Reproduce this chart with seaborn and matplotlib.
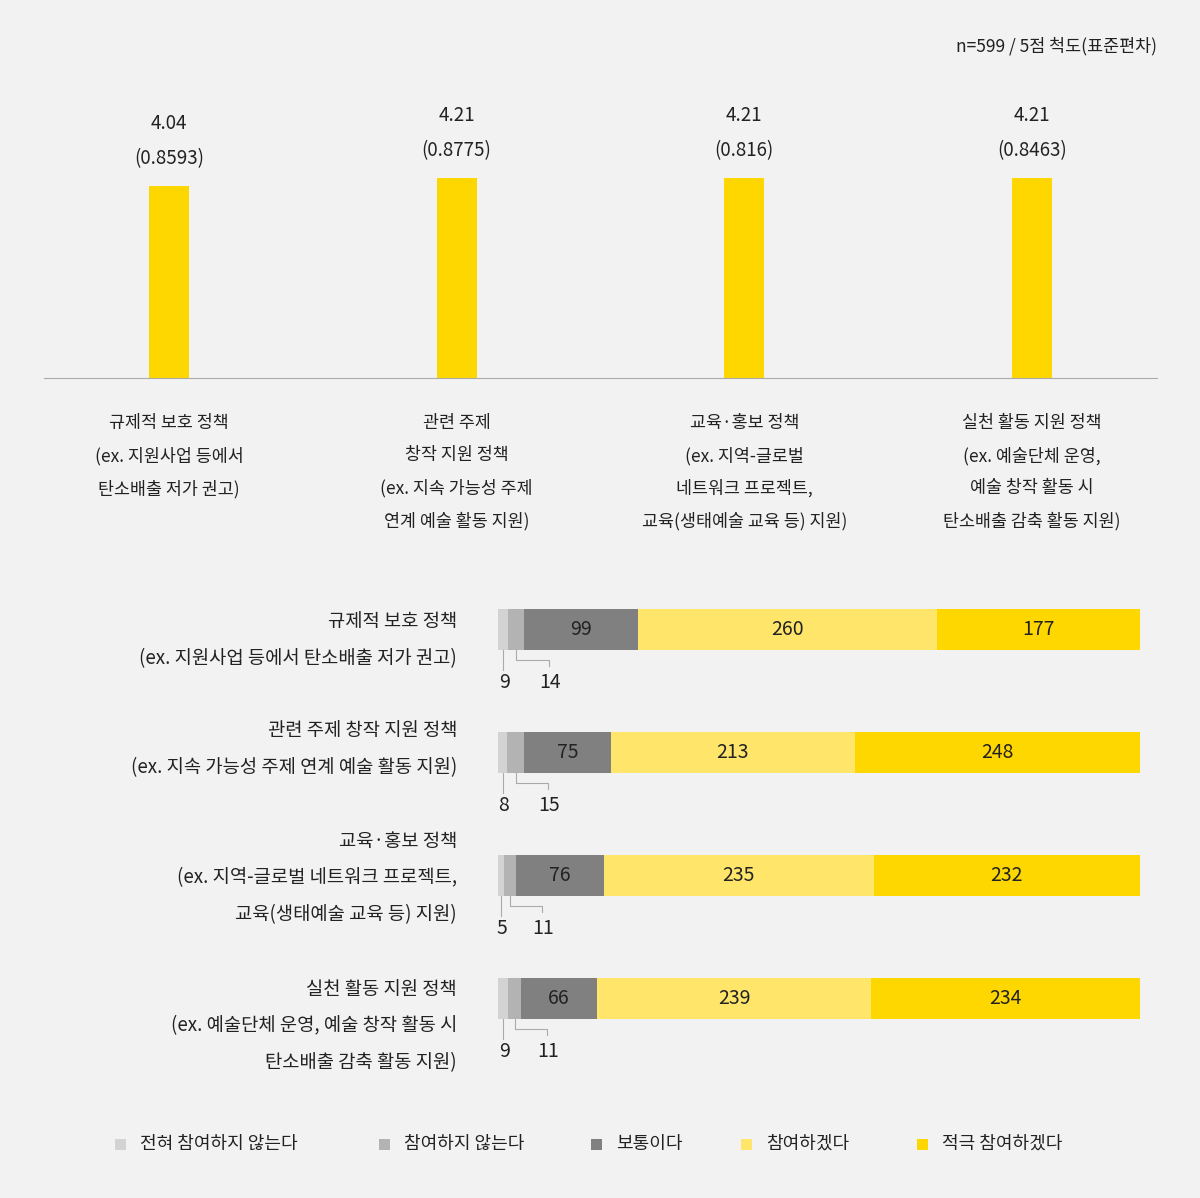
import matplotlib
matplotlib.use("Agg")
import matplotlib.pyplot as plt
import seaborn as sns
import pandas as pd
from matplotlib.patches import Rectangle

plt.rcParams["font.family"] = ["Noto Sans CJK JP", "Noto Sans CJK KR", "DejaVu Sans"]

cats_top = ["규제적 보호 정책\n(ex. 지원사업 등에서\n탄소배출 저가 권고)",
            "관련 주제\n창작 지원 정책\n(ex. 지속 가능성 주제\n연계 예술 활동 지원)",
            "교육·홍보 정책\n(ex. 지역-글로벌\n네트워크 프로젝트,\n교육(생태예술 교육 등) 지원)",
            "실천 활동 지원 정책\n(ex. 예술단체 운영,\n예술 창작 활동 시\n탄소배출 감축 활동 지원)"]
means = [4.04, 4.21, 4.21, 4.21]
sds = ["0.8593", "0.8775", "0.816", "0.8463"]

cats_bot = ["규제적 보호 정책\n(ex. 지원사업 등에서 탄소배출 저가 권고)",
            "관련 주제 창작 지원 정책\n(ex. 지속 가능성 주제 연계 예술 활동 지원)",
            "교육·홍보 정책\n(ex. 지역-글로벌 네트워크 프로젝트,\n교육(생태예술 교육 등) 지원)",
            "실천 활동 지원 정책\n(ex. 예술단체 운영, 예술 창작 활동 시\n탄소배출 감축 활동 지원)"]
levels = ["전혀 참여하지 않는다", "참여하지 않는다", "보통이다", "참여하겠다", "적극 참여하겠다"]
counts = [[9, 14, 99, 260, 177],
          [8, 15, 75, 213, 248],
          [5, 11, 76, 235, 232],
          [9, 11, 66, 239, 234]]
colors = ["#d3d3d3", "#b3b3b3", "#808080", "#ffe66b", "#ffd700"]

W, H = 1200, 1198
fig = plt.figure(figsize=(12, 11.98), dpi=100, facecolor="#f2f2f2")

def ax_px(l, t, r, b):
    return fig.add_axes([l / W, 1 - b / H, (r - l) / W, (b - t) / H])

# ---- top chart
ax = ax_px(44, 100, 1157, 378)
ax.set_facecolor("#f2f2f2")
df = pd.DataFrame({"cat": cats_top, "mean": means})
sns.barplot(data=df, x="cat", y="mean", color="#ffd700", width=0.139, ax=ax, saturation=1)
ax.set_xlim(-0.434, 3.434)
ax.set_ylim(0, 5.85)
for s in ["top", "right", "left"]:
    ax.spines[s].set_visible(False)
ax.spines["bottom"].set_color("#aaaaaa")
ax.set_yticks([])
ax.set_xlabel(""); ax.set_ylabel("")
ax.tick_params(axis="x", length=0, pad=26, labelsize=12.5, colors="#222222")
for lab in ax.get_xticklabels():
    lab.set_linespacing(2.0)
    lab.set_verticalalignment("top")
for i, (m, s) in enumerate(zip(means, sds)):
    ax.annotate(f"{m:.2f}\n({s})", (i, m), xytext=(0, 12), textcoords="offset points",
                ha="center", va="bottom", fontsize=13.5, linespacing=1.9, color="#222222")

fig.text(1157 / W, 1 - 46 / H, "n=599 / 5점 척도(표준편차)", ha="right", va="center",
         fontsize=12.5, color="#222222")

# ---- bottom chart
ax2 = ax_px(498, 568, 1140, 1060)
ax2.set_facecolor("#f2f2f2")
ax2.set_xlim(0, sum(counts[0]))
ax2.set_ylim(3.5, -0.5)
ax2.axis("off")
label_cy = [640, 749, 878, 1026]
for i, row in enumerate(counts):
    left = 0
    for j, v in enumerate(row):
        ax2.barh(i, v, left=left, height=0.33, color=colors[j], lw=0)
        c = left + v / 2
        if j >= 2:
            ax2.text(c, i, str(v), ha="center", va="center", fontsize=14, color="#222222")
        left += v
    c0 = row[0] / 2
    c1 = row[0] + row[1] / 2
    yb = i + 0.165
    ax2.plot([c0, c0], [yb, i + 0.33], color="#aaaaaa", lw=0.8)
    ax2.text(c0 + 1, i + 0.43, str(row[0]), ha="center", va="center", fontsize=14, color="#222222")
    x1 = c1 + 28
    ax2.plot([c1, c1, x1, x1], [yb, i + 0.25, i + 0.25, i + 0.30], color="#aaaaaa", lw=0.8)
    ax2.text(x1 + 1, i + 0.43, str(row[1]), ha="center", va="center", fontsize=14, color="#222222")
    fig.text(457 / W, 1 - label_cy[i] / H, cats_bot[i], ha="right", va="center",
             fontsize=13.5, linespacing=2.0, color="#222222")

# ---- legend
leg_x = [115, 379, 591, 741, 917]
for x, lab, c in zip(leg_x, levels, colors):
    fig.patches.append(Rectangle((x / W, 1 - 1150 / H), 11 / W, 11 / H, transform=fig.transFigure,
                                 color=c, lw=0))
    fig.text((x + 25) / W, 1 - 1144 / H, lab, ha="left", va="center", fontsize=13, color="#222222")

fig.savefig("out.png", dpi=100, facecolor=fig.get_facecolor())
